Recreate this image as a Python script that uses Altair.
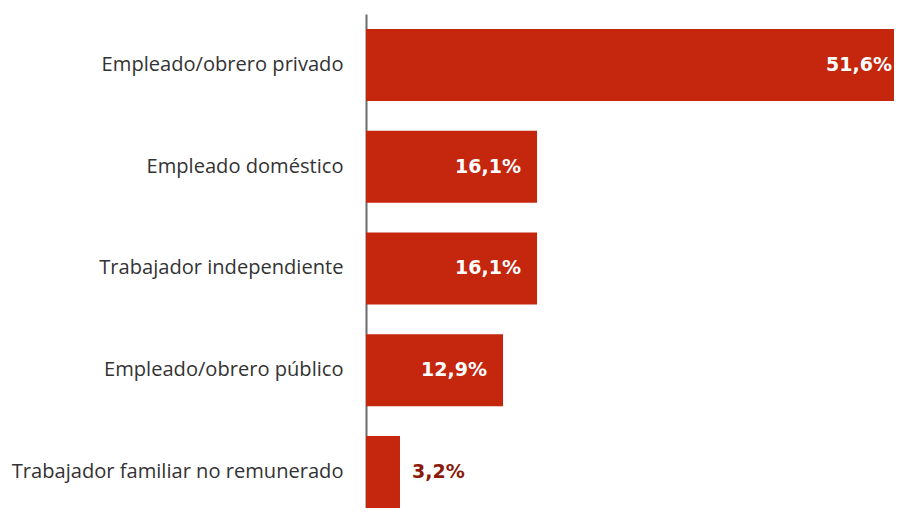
import altair as alt
import pandas as pd

categories = [
    "Empleado/obrero privado",
    "Empleado doméstico",
    "Trabajador independiente",
    "Empleado/obrero público",
    "Trabajador familiar no remunerado",
]
values = [51.6, 16.1, 16.1, 12.9, 3.2]
labels = ["51,6%", "16,1%", "16,1%", "12,9%", "3,2%"]
inside = [True, True, True, True, False]

XMAX = 49.7  # visible part of the axis; the longest bar runs off the edge

df = pd.DataFrame({"cat": categories, "val": values, "lab": labels, "inside": inside})

FONT = "Open Sans"
VFONT = "DejaVu Sans"
BAR = "#C4260E"

y = alt.Y(
    "cat:N",
    sort=categories,
    title=None,
    scale=alt.Scale(paddingInner=0.292, paddingOuter=0.0737, align=1),
    axis=alt.Axis(
        ticks=False,
        labelPadding=23,
        labelFontSize=20.1,
        labelFont=FONT,
        labelColor="#333333",
        labelLimit=400,
        domainColor="#6b6b6b",
        domainWidth=2,
        grid=False,
    ),
)
x = alt.X("val:Q", title=None, scale=alt.Scale(domain=[0, XMAX], nice=False), axis=None)
xl = alt.X("lx:Q", title=None, scale=alt.Scale(domain=[0, XMAX], nice=False), axis=None)

base = alt.Chart(df).transform_calculate(lx=f"min(datum.val, {XMAX})")
bars = base.mark_bar(color=BAR).encode(x=x, y=y)
txt_in = base.transform_filter((alt.datum.inside == True) & (alt.datum.val <= XMAX)).mark_text(
    align="right", baseline="middle", dx=-16, font=VFONT, fontSize=19, fontWeight="bold", color="white"
).encode(x=xl, y=y, text="lab:N")
txt_edge = base.transform_filter((alt.datum.inside == True) & (alt.datum.val > XMAX)).mark_text(
    align="right", baseline="middle", dx=-2, font=VFONT, fontSize=19, fontWeight="bold", color="white"
).encode(x=xl, y=y, text="lab:N")
txt_out = base.transform_filter(alt.datum.inside == False).mark_text(
    align="left", baseline="middle", dx=12, font=VFONT, fontSize=19, fontWeight="bold", color="#8B1A0A"
).encode(x=xl, y=y, text="lab:N")

chart = (
    alt.layer(bars, txt_in, txt_edge, txt_out)
    .properties(
        width=528,
        height=494,
        autosize=alt.AutoSizeParams(type="none"),
        padding={"left": 358, "top": 6, "right": 0, "bottom": 0},
    )
    .configure_view(stroke=None)
)

chart.save("out.html", embed_options={"renderer": "svg", "actions": False})
